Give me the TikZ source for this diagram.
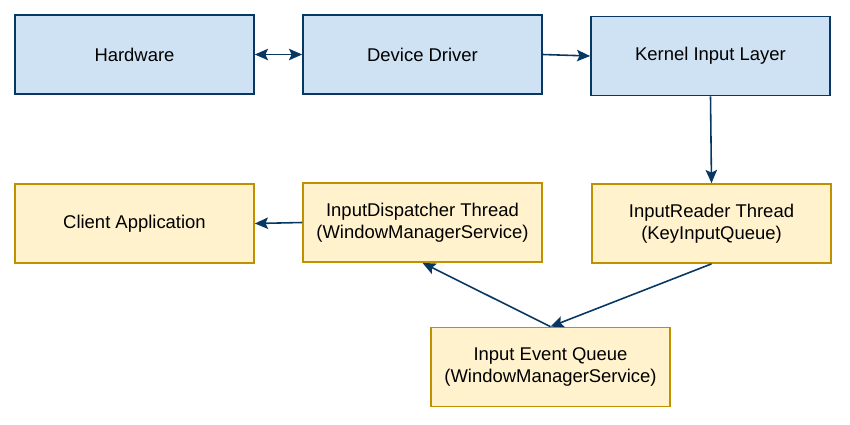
\documentclass[tikz,border=0pt]{standalone}
\usepackage{fontspec}
\setmainfont{Liberation Sans}
\usepackage{tikz}
\usetikzlibrary{arrows.meta}

\definecolor{kernfill}{HTML}{CFE2F3}
\definecolor{kernline}{HTML}{073763}
\definecolor{userfill}{HTML}{FFF2CC}
\definecolor{userline}{HTML}{BF9000}

\begin{document}
\begin{tikzpicture}[x=0.02cm, y=-0.02cm, >={Stealth[length=7.5pt,width=6.5pt,inset=1.5pt]},
  box/.style={draw, line width=1pt, minimum width=4.78cm, minimum height=1.58cm,
    align=center, inner sep=2pt, font=\fontsize{10.5}{12.6}\selectfont},
  kbox/.style={box, fill=kernfill, draw=kernline},
  ubox/.style={box, fill=userfill, draw=userline},
  flow/.style={->, line width=0.9pt, draw=kernline}]
  \useasboundingbox (0,0) rectangle (850,424);
  % Kernel side
  \node[kbox] (hw) at (134.5,54.5) {Hardware};
  \node[kbox] (drv) at (422.5,54.5) {Device Driver};
  \node[kbox] (kil) at (710.5,56) {Kernel Input Layer};
  % User side
  \node[ubox] (app) at (134.5,223.5) {Client Application};
  \node[ubox] (disp) at (422.5,222.5) {InputDispatcher Thread\\(WindowManagerService)};
  \node[ubox] (rdr) at (711.5,223.5) {InputReader Thread\\(KeyInputQueue)};
  \node[ubox] (queue) at (550.5,367) {Input Event Queue\\(WindowManagerService)};
  % Connectors
  \draw[flow, <->] (hw.east) -- (drv.west);
  \draw[flow] (drv.east) -- (kil.west);
  \draw[flow] (kil.south) -- (rdr.north);
  \draw[flow] (rdr.south) -- (queue.north);
  \draw[flow] (queue.north) -- (disp.south);
  \draw[flow] (disp.west) -- (app.east);
\end{tikzpicture}
\end{document}
